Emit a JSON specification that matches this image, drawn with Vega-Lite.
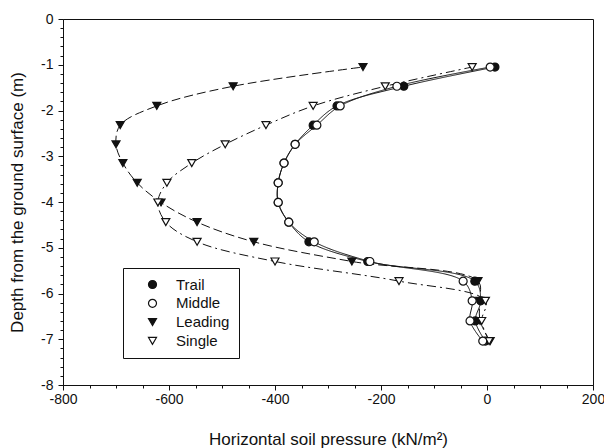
{
  "$schema": "https://vega.github.io/schema/vega-lite/v6.json",
  "width": 530,
  "height": 366,
  "autosize": {"type": "none"},
  "padding": {"left": 63, "top": 19, "right": 11, "bottom": 63},
  "background": "white",
  "config": {
    "view": {"stroke": "#111", "strokeWidth": 1},
    "font": "Liberation Sans",
    "axis": {"grid": false, "domainColor": "#111", "tickColor": "#111", "labelColor": "#111", "titleColor": "#111", "labelFont": "Liberation Sans", "titleFont": "Liberation Sans", "labelFontSize": 14, "titleFontSize": 17, "titleFontWeight": "normal"},
    "legend": {
      "orient": "none", "legendX": 60, "legendY": 249,
      "strokeColor": "#111", "fillColor": "white", "padding": 9,
      "labelFontSize": 15, "labelFont": "Liberation Sans", "labelColor": "#111",
      "symbolStrokeColor": "#111", "symbolStrokeWidth": 1.2, "symbolSize": 64,
      "symbolOffset": 13, "rowPadding": 2.8, "labelOffset": 16
    }
  },
  "data": {"values": [
    {"series": "Trail", "p": 15, "d": -1.05},
    {"series": "Trail", "p": -157, "d": -1.47},
    {"series": "Trail", "p": -283, "d": -1.9},
    {"series": "Trail", "p": -328, "d": -2.32},
    {"series": "Trail", "p": -362, "d": -2.74},
    {"series": "Trail", "p": -383, "d": -3.15},
    {"series": "Trail", "p": -394, "d": -3.58},
    {"series": "Trail", "p": -394, "d": -4.01},
    {"series": "Trail", "p": -374, "d": -4.44},
    {"series": "Trail", "p": -336, "d": -4.87},
    {"series": "Trail", "p": -225, "d": -5.3},
    {"series": "Trail", "p": -23, "d": -5.73},
    {"series": "Trail", "p": -12, "d": -6.16},
    {"series": "Trail", "p": -22, "d": -6.6},
    {"series": "Trail", "p": -3, "d": -7.04},
    {"series": "Leading", "p": -234, "d": -1.05},
    {"series": "Leading", "p": -479, "d": -1.47},
    {"series": "Leading", "p": -623, "d": -1.9},
    {"series": "Leading", "p": -692, "d": -2.32},
    {"series": "Leading", "p": -700, "d": -2.74},
    {"series": "Leading", "p": -687, "d": -3.15},
    {"series": "Leading", "p": -660, "d": -3.58},
    {"series": "Leading", "p": -615, "d": -4.01},
    {"series": "Leading", "p": -547, "d": -4.44},
    {"series": "Leading", "p": -440, "d": -4.87},
    {"series": "Leading", "p": -255, "d": -5.3},
    {"series": "Leading", "p": -17, "d": -5.73},
    {"series": "Leading", "p": -14, "d": -6.16},
    {"series": "Leading", "p": -13, "d": -6.6},
    {"series": "Leading", "p": 6, "d": -7.04},
    {"series": "Single", "p": -28, "d": -1.05},
    {"series": "Single", "p": -192, "d": -1.47},
    {"series": "Single", "p": -328, "d": -1.9},
    {"series": "Single", "p": -417, "d": -2.32},
    {"series": "Single", "p": -494, "d": -2.74},
    {"series": "Single", "p": -557, "d": -3.15},
    {"series": "Single", "p": -604, "d": -3.58},
    {"series": "Single", "p": -621, "d": -4.01},
    {"series": "Single", "p": -606, "d": -4.44},
    {"series": "Single", "p": -547, "d": -4.87},
    {"series": "Single", "p": -400, "d": -5.3},
    {"series": "Single", "p": -166, "d": -5.73},
    {"series": "Single", "p": -3, "d": -6.16},
    {"series": "Single", "p": -10, "d": -6.6},
    {"series": "Single", "p": 4, "d": -7.04},
    {"series": "Middle", "p": 6, "d": -1.05},
    {"series": "Middle", "p": -170, "d": -1.47},
    {"series": "Middle", "p": -277, "d": -1.9},
    {"series": "Middle", "p": -321, "d": -2.32},
    {"series": "Middle", "p": -362, "d": -2.74},
    {"series": "Middle", "p": -383, "d": -3.15},
    {"series": "Middle", "p": -394, "d": -3.58},
    {"series": "Middle", "p": -394, "d": -4.01},
    {"series": "Middle", "p": -374, "d": -4.44},
    {"series": "Middle", "p": -326, "d": -4.87},
    {"series": "Middle", "p": -221, "d": -5.3},
    {"series": "Middle", "p": -45, "d": -5.73},
    {"series": "Middle", "p": -28, "d": -6.16},
    {"series": "Middle", "p": -32, "d": -6.6},
    {"series": "Middle", "p": -8, "d": -7.04}
  ]},
  "encoding": {
    "x": {
      "field": "p", "type": "quantitative",
      "scale": {"domain": [-800, 200], "nice": false, "zero": false},
      "axis": {
        "title": "Horizontal soil pressure (kN/m²)",
        "values": [-800, -750, -700, -650, -600, -550, -500, -450, -400, -350, -300, -250, -200, -150, -100, -50, 0, 50, 100, 150, 200],
        "labelExpr": "datum.value % 200 === 0 ? toString(datum.value) : ''",
        "tickSize": {"condition": {"test": "datum.value % 200 === 0", "value": 5}, "value": 3},
        "labelPadding": 2,
        "labelFlush": false,
        "labelOverlap": false,
        "titleY": 59,
        "titleBaseline": "alphabetic"
      }
    },
    "y": {
      "field": "d", "type": "quantitative",
      "scale": {"domain": [-8, 0], "nice": false, "zero": false},
      "axis": {
        "title": "Depth from the ground surface (m)",
        "values": [0, -0.2, -0.4, -0.6, -0.8, -1, -1.2, -1.4, -1.6, -1.8, -2, -2.2, -2.4, -2.6, -2.8, -3, -3.2, -3.4, -3.6, -3.8, -4, -4.2, -4.4, -4.6, -4.8, -5, -5.2, -5.4, -5.6, -5.8, -6, -6.2, -6.4, -6.6, -6.8, -7, -7.2, -7.4, -7.6, -7.8, -8],
        "labelExpr": "abs(datum.value - round(datum.value)) < 0.001 ? toString(round(datum.value)) : ''",
        "tickSize": {"condition": {"test": "abs(datum.value - round(datum.value)) < 0.001", "value": 5}, "value": 3},
        "labelPadding": 5,
        "labelOverlap": false,
        "labelFlush": false,
        "titleX": -46,
        "titleBaseline": "middle"
      }
    }
  },
  "layer": [
    {
      "mark": {"type": "line", "interpolate": "catmull-rom", "color": "#111", "strokeWidth": 1},
      "encoding": {
        "detail": {"field": "series"},
        "order": {"field": "d", "type": "quantitative"},
        "strokeDash": {
          "field": "series", "type": "nominal",
          "scale": {"domain": ["Leading", "Single", "Trail", "Middle"], "range": [[9, 4], [9, 4, 2, 4], [1, 0], [1, 0]]},
          "legend": null
        }
      }
    },
    {
      "mark": {"type": "point", "filled": false, "stroke": "#111", "strokeWidth": 1.2, "opacity": 1, "size": 64},
      "encoding": {
        "shape": {
          "field": "series", "type": "nominal",
          "scale": {"domain": ["Trail", "Middle", "Leading", "Single"], "range": ["circle", "circle", "triangle-down", "triangle-down"]},
          "legend": {
            "title": null,
            "encoding": {"symbols": {
              "shape": {"value": {"expr": "datum.value === 'Trail' || datum.value === 'Middle' ? 'M-4,0H-1M1,0H4M-1,0A1,1 0 1,1 1,0A1,1 0 1,1 -1,0Z' : 'M-4,0H-0.5M0.5,0H4M0,0.866L-1,-0.866L1,-0.866Z'"}},
              "stroke": {"value": "#111"},
              "strokeWidth": {"value": 1.2}
            }}
          }
        },
        "fill": {
          "field": "series", "type": "nominal",
          "scale": {"domain": ["Trail", "Middle", "Leading", "Single"], "range": ["#111", "white", "#111", "white"]},
          "legend": {
            "title": null,
            "encoding": {"symbols": {
              "shape": {"value": {"expr": "datum.value === 'Trail' || datum.value === 'Middle' ? 'M-4,0H-1M1,0H4M-1,0A1,1 0 1,1 1,0A1,1 0 1,1 -1,0Z' : 'M-4,0H-0.5M0.5,0H4M0,0.866L-1,-0.866L1,-0.866Z'"}},
              "stroke": {"value": "#111"},
              "strokeWidth": {"value": 1.2}
            }}
          }
        }
      }
    }
  ]
}
